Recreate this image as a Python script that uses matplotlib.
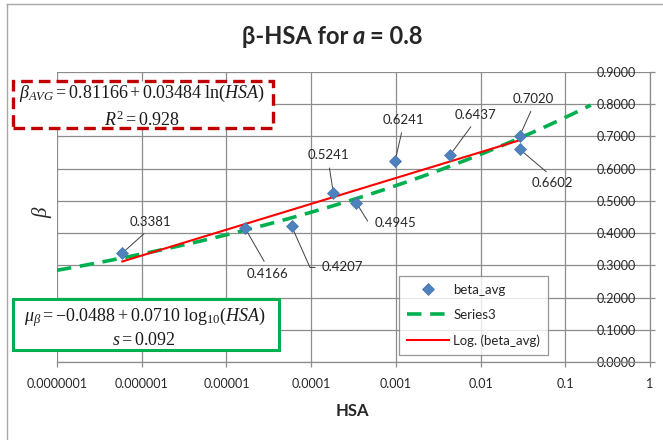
import numpy as np
import matplotlib
matplotlib.use("Agg")
import matplotlib.pyplot as plt
from matplotlib.patches import Rectangle
from matplotlib.lines import Line2D
from matplotlib.ticker import FixedLocator, FixedFormatter

# ---- data -------------------------------------------------------------
hsa = [5.9e-7, 1.65e-5, 5.9e-5, 1.83e-4, 3.4e-4, 9.8e-4, 4.4e-3, 0.029, 0.029]
beta_avg = [0.3381, 0.4166, 0.4207, 0.5241, 0.4945, 0.6241, 0.6437, 0.7020, 0.6602]

# logarithmic trend: beta = fit_a + fit_b * ln(HSA)
fit_a = 0.81166
fit_b = 0.03484
r_squared = 0.928

# mean model: log10(beta) = mu_c0 + mu_c1 * log10(HSA)
mu_c0 = -0.0488
mu_c1 = 0.0710
mu_s = 0.092
series3_hsa_range = [1e-7, 0.2]

x_ticks = [1e-7, 1e-6, 1e-5, 1e-4, 1e-3, 1e-2, 1e-1, 1.0]
x_tick_labels = ["0.0000001", "0.000001", "0.00001", "0.0001", "0.001", "0.01", "0.1", "1"]
y_ticks = [0.0, 0.1, 0.2, 0.3, 0.4, 0.5, 0.6, 0.7, 0.8, 0.9]

# ---- styling ----------------------------------------------------------
W, H = 663, 440
SANS = ["Lato", "Open Sans", "DejaVu Sans"]
SERIF = "Liberation Serif"
plt.rcParams["font.family"] = SANS
plt.rcParams["mathtext.fontset"] = "custom"
plt.rcParams["mathtext.rm"] = SERIF
plt.rcParams["mathtext.it"] = SERIF + ":italic"
plt.rcParams["mathtext.bf"] = SERIF + ":bold"

GRID = "#8c8c8c"
TXT = "#262626"


def fx(px):
    return px / W


def fy(py):
    return 1 - py / H


fig = plt.figure(figsize=(W / 100, H / 100), dpi=100)
fig.patch.set_facecolor("white")

# chart-area border
fig.add_artist(Line2D([fx(7), fx(7)], [fy(4), 0], color="#a6a6a6", lw=1.0))
fig.add_artist(Line2D([fx(7), 1], [fy(4), fy(4)], color="#a6a6a6", lw=1.0))

ax = fig.add_axes([fx(57), fy(362), fx(650) - fx(57), fy(72) - fy(362)])
ax.set_xscale("log")
ax.set_xlim(1e-7, 1)
ax.set_ylim(0, 0.9)

ax.xaxis.set_major_locator(FixedLocator(x_ticks))
ax.xaxis.set_major_formatter(FixedFormatter(x_tick_labels))
ax.xaxis.set_minor_locator(FixedLocator([]))
ax.yaxis.set_major_locator(FixedLocator(y_ticks))
ax.yaxis.set_major_formatter(plt.FuncFormatter(lambda v, p: f"{v:.4f}"))

ax.grid(True, which="major", color=GRID, lw=0.9)
ax.set_axisbelow(True)
for side in ("top", "left"):
    ax.spines[side].set_visible(False)
for side in ("bottom", "right"):
    ax.spines[side].set_color(GRID)
    ax.spines[side].set_linewidth(0.9)

ax.yaxis.tick_right()
ax.tick_params(axis="x", direction="out", length=3.6, width=0.9, color=GRID,
               pad=8, labelsize=9, labelcolor=TXT)
ax.tick_params(axis="y", direction="out", length=3.6, width=0.9, color=GRID,
               pad=-13.7, labelsize=9, labelcolor=TXT)
for lab in ax.get_yticklabels():
    lab.set_horizontalalignment("right")

# ---- series -----------------------------------------------------------
xs3 = np.logspace(np.log10(series3_hsa_range[0]), np.log10(series3_hsa_range[1]), 200)
ys3 = 10 ** (mu_c0 + mu_c1 * np.log10(xs3))
ax.plot(xs3, ys3, color="#00b050", lw=2.6, linestyle=(0, (4.0, 2.4)),
        dash_capstyle="butt", zorder=3, label="Series3")

xt = np.logspace(np.log10(min(hsa)), np.log10(max(hsa)), 100)
ax.plot(xt, fit_a + fit_b * np.log(xt), color="#ff0000", lw=1.5, zorder=3.5,
        label="Log. (beta_avg)")

ax.plot(hsa, beta_avg, linestyle="none", marker="D", ms=6.2, mfc="#4f81bd",
        mec="#4575b0", mew=0.5, zorder=5, label="beta_avg")

# data labels with leader lines (offsets in pixels, same order as the data)
label_offsets = [(28, 31), (23, -46), (51, -41), (-5, 38), (39, -20),
                 (8, 41), (25, 40), (14, 37), (33, -34)]
label_leader = ["above", "below", "bend:-66", "above", "bend:-58",
                "above", "above", "above", "below"]
for x, y, (dx, dy), kind in zip(hsa, beta_avg, label_offsets, label_leader):
    if kind == "above":
        relpos, conn = (0.5, 0.0), "arc3"
    elif kind == "below":
        relpos, conn = (0.5, 1.0), "arc3"
    else:
        ang = float(kind.split(":")[1])
        relpos, conn = (0.0, 0.5), f"angle,angleA=180,angleB={ang},rad=0"
    ax.annotate(f"{y:.4f}", xy=(x, y), xytext=(dx, dy), textcoords="offset pixels",
                ha="center", va="center", fontsize=9.5, color=TXT, zorder=4,
                arrowprops=dict(arrowstyle="-", color="#404040", lw=0.7,
                                shrinkA=3, shrinkB=0, relpos=relpos,
                                connectionstyle=conn))

# legend
handles, labels = ax.get_legend_handles_labels()
order = [2, 0, 1]
leg = ax.legend([handles[i] for i in order], [labels[i] for i in order],
                loc="upper left", bbox_to_anchor=(fx(399), fy(276)),
                bbox_transform=fig.transFigure, borderaxespad=0,
                fontsize=9.5, frameon=True, fancybox=False, numpoints=1,
                handlelength=3.2, handletextpad=0.3, labelspacing=1.0,
                borderpad=0.6)
leg.get_frame().set_edgecolor("#7f7f7f")
leg.get_frame().set_linewidth(0.9)
for t in leg.get_texts():
    t.set_color(TXT)
leg.set_zorder(10)

# axis titles
ax.set_xlabel("HSA", fontsize=12, fontweight="bold", color=TXT)
ax.xaxis.set_label_coords((352 - 57) / 593, (362 - 411) / 290)
ax.xaxis.label.set_va("center")
ax.set_ylabel("β", fontsize=15, family=SERIF, style="italic", color=TXT, rotation=90)
ax.yaxis.set_label_position("left")
ax.yaxis.set_label_coords((42 - 57) / 593, (362 - 213) / 290)
ax.yaxis.label.set_va("center")

# equation boxes
fig.add_artist(Rectangle((fx(13), fy(128)), fx(273) - fx(13), fy(81) - fy(128),
                         transform=fig.transFigure, facecolor="white",
                         edgecolor="#c00000", lw=2.4, linestyle=(0, (3.5, 1.8)),
                         zorder=5))
fig.text(fx(142), fy(93), rf"$\beta_{{AVG}} = {fit_a:.5f} + {fit_b:.5f}\;\mathrm{{ln}}(HSA)$",
         ha="center", va="center", fontsize=13, zorder=6, color="#1a1a1a")
fig.text(fx(142), fy(119), rf"$R^2 = {r_squared:.3f}$",
         ha="center", va="center", fontsize=13, zorder=6, color="#1a1a1a")

fig.add_artist(Rectangle((fx(13), fy(350)), fx(279) - fx(13), fy(299) - fy(350),
                         transform=fig.transFigure, facecolor="white",
                         edgecolor="#00b050", lw=2.2, zorder=5))
fig.text(fx(145), fy(317),
         rf"$\mu_\beta = -{abs(mu_c0):.4f} + {mu_c1:.4f}\;\mathrm{{log}}_{{10}}(HSA)$",
         ha="center", va="center", fontsize=13, zorder=6, color="#1a1a1a")
fig.text(fx(144), fy(339), rf"$s = {mu_s:.3f}$",
         ha="center", va="center", fontsize=13, zorder=6, color="#1a1a1a")

# title: "β-HSA for a = 0.8" with italic a
title_parts = [("β-HSA for", "normal"), ("a", "italic"), ("= 0.8", "normal")]
fig.canvas.draw()
renderer = fig.canvas.get_renderer()
texts = []
for s, st in title_parts:
    t = fig.text(0, fy(44), s, fontsize=17, fontweight="bold", style=st,
                 ha="left", va="baseline", color=TXT)
    texts.append(t)
gap = 4.8
widths = [t.get_window_extent(renderer).width for t in texts]
total = sum(widths) + gap * (len(widths) - 1)
x0 = 332 - total / 2
for t, w in zip(texts, widths):
    t.set_x(fx(x0))
    x0 += w + gap

fig.savefig("out.png", dpi=100, facecolor="white")
